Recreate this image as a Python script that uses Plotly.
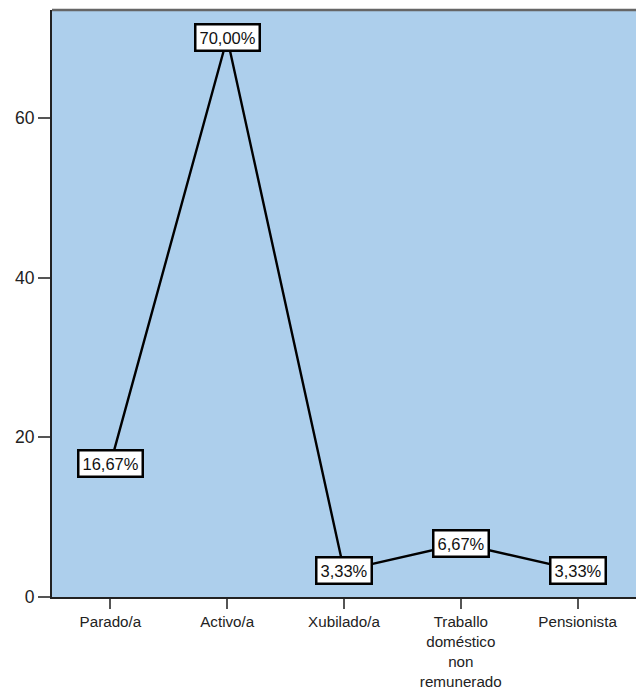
import plotly.graph_objects as go

categories = ["Parado/a", "Activo/a", "Xubilado/a", "Traballo<br>doméstico<br>non<br>remunerado", "Pensionista"]
values = [16.67, 70.00, 3.33, 6.67, 3.33]
labels = ["16,67%", "70,00%", "3,33%", "6,67%", "3,33%"]
y_ticks = [0, 20, 40, 60]

FONT = "Liberation Sans, Arial"

fig = go.Figure()
fig.add_trace(go.Scatter(
    x=categories, y=values, mode="lines",
    line=dict(color="black", width=2.4),
    hoverinfo="skip", showlegend=False,
))

for c, v, t in zip(categories, values, labels):
    fig.add_annotation(
        x=c, y=v, text=t, showarrow=False,
        font=dict(family=FONT, size=16.5, color="#111111"),
        bgcolor="white", bordercolor="black", borderwidth=2.5, borderpad=3,
        xanchor="center", yanchor="middle",
    )

fig.add_shape(type="line", xref="paper", yref="paper", x0=0, x1=1, y0=1, y1=1,
              line=dict(color="#666666", width=2.5))

fig.update_layout(
    width=636, height=691,
    margin=dict(l=52, r=0, t=10, b=94),
    paper_bgcolor="white",
    plot_bgcolor="rgb(173,207,236)",
    font=dict(family=FONT, size=15.5, color="#222222"),
    showlegend=False,
)
fig.update_xaxes(
    type="category", range=[-0.5, 4.5], showgrid=False, zeroline=False,
    showline=True, linecolor="#222222", linewidth=2,
    ticks="outside", ticklen=10, tickcolor="#555555", tickwidth=1.5,
    tickfont=dict(family=FONT, size=15.2, color="#222222"),
)
fig.update_yaxes(
    range=[0, 73.5], tickvals=y_ticks, showgrid=False, zeroline=False,
    showline=True, linecolor="#222222", linewidth=2,
    ticks="outside", ticklen=12, tickcolor="#555555", tickwidth=1.5,
    tickfont=dict(family=FONT, size=17.5, color="#222222"),
)

fig.write_html(
    "out.html",
    config={"displayModeBar": False},
    post_script=(
        "document.documentElement.style.overflow='hidden';"
        "document.body.style.overflow='hidden';"
        "document.body.style.margin='0';"
    ),
)
